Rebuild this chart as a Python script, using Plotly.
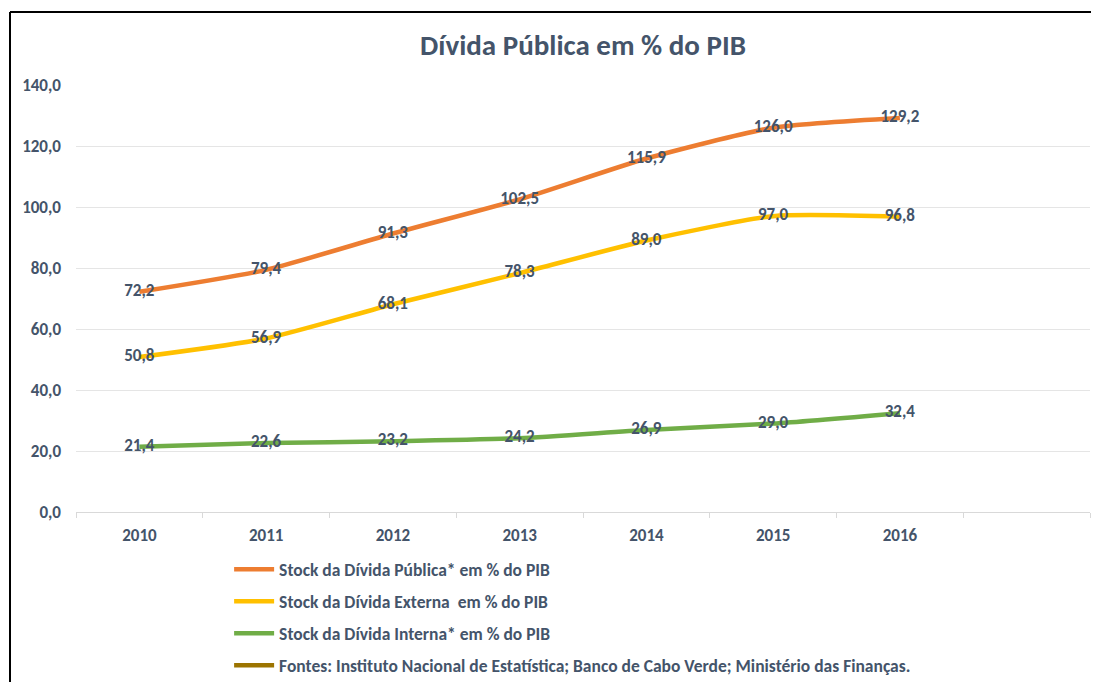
import plotly.graph_objects as go

years = ["2010", "2011", "2012", "2013", "2014", "2015", "2016"]
divida_publica = [72.2, 79.4, 91.3, 102.5, 115.9, 126.0, 129.2]
divida_externa = [50.8, 56.9, 68.1, 78.3, 89.0, 97.0, 96.8]
divida_interna = [21.4, 22.6, 23.2, 24.2, 26.9, 29.0, 32.4]
y_ticks = [0, 20, 40, 60, 80, 100, 120, 140]

names = ["Stock da Dívida Pública* em % do PIB",
         "Stock da Dívida Externa  em % do PIB",
         "Stock da Dívida Interna* em % do PIB"]
colors = ["#ED7D31", "#FFC000", "#70AD47"]
source_name = "Fontes: Instituto Nacional de Estatística; Banco de Cabo Verde; Ministério das Finanças."
source_color = "#9C7400"

FONT = "Carlito, 'Liberation Sans Narrow', 'Open Sans', sans-serif"
TXT = "#44546A"

W, H = 1091, 674
L, R, T, B = 68, 9, 77, 170
PW, PH = W - L - R, H - T - B

def fmt(v):
    return f"{v:.1f}".replace(".", ",")

fig = go.Figure()
for i, (vals, name, col) in enumerate(zip([divida_publica, divida_externa, divida_interna], names, colors)):
    fig.add_trace(go.Scatter(
        x=years, y=vals, name=name, mode="lines+text",
        line=dict(color=col, width=4.5, shape="spline", smoothing=0.6),
        text=[fmt(v) for v in vals], textposition="middle center",
        textfont=dict(family=FONT, size=17, color=TXT, weight="bold"),
        legendgroup=f"g{i}", cliponaxis=False,
    ))
fig.add_trace(go.Scatter(
    x=[None], y=[None], name=source_name, mode="lines",
    line=dict(color=source_color, width=4.5), legendgroup="g3",
))

cats = years + [" "]
fig.update_layout(
    width=W, height=H,
    paper_bgcolor="white", plot_bgcolor="white",
    margin=dict(l=L, r=R, t=T, b=B, autoexpand=False),
    title=dict(text="<b>Dívida Pública em % do PIB</b>", x=(L + PW / 2) / W, xanchor="center",
               y=1 - 37 / H, yanchor="middle",
               font=dict(family=FONT, size=29, color=TXT)),
    font=dict(family=FONT, color=TXT),
    showlegend=True,
    legend=dict(x=0.151, y=-0.092, xanchor="left", yanchor="top", orientation="v",
                font=dict(family=FONT, size=17.5, color=TXT, weight="bold"),
                tracegroupgap=6.3, itemwidth=40, bgcolor="rgba(0,0,0,0)"),
    xaxis=dict(type="category", categoryorder="array", categoryarray=cats,
               range=[-0.5, 7.5], tickson="boundaries", ticks="outside",
               ticklen=5, tickcolor="#D9D9D9", showline=True, linecolor="#D9D9D9",
               linewidth=1, showgrid=False, zeroline=False, ticklabelstandoff=8,
               tickfont=dict(family=FONT, size=17, color=TXT, weight="bold")),
    yaxis=dict(range=[0, 140], tickvals=y_ticks, ticktext=[fmt(v) for v in y_ticks],
               showgrid=True, gridcolor="#E5E5E5", gridwidth=1, zeroline=False,
               showline=False, ticks="", ticklabelstandoff=14,
               tickfont=dict(family=FONT, size=17, color=TXT, weight="bold")),
)

# outer frame (top and left lines)
fx = (2 - L) / PW
fy = (T + PH - 4) / PH
fig.add_shape(type="line", xref="paper", yref="paper",
              x0=fx, x1=(PW + R + 2) / PW, y0=fy, y1=fy, line=dict(color="black", width=2))
fig.add_shape(type="line", xref="paper", yref="paper",
              x0=fx, x1=fx, y0=fy, y1=-(B + 10) / PH, line=dict(color="black", width=2))

fig.write_html("out.html", config={"displayModeBar": False})
